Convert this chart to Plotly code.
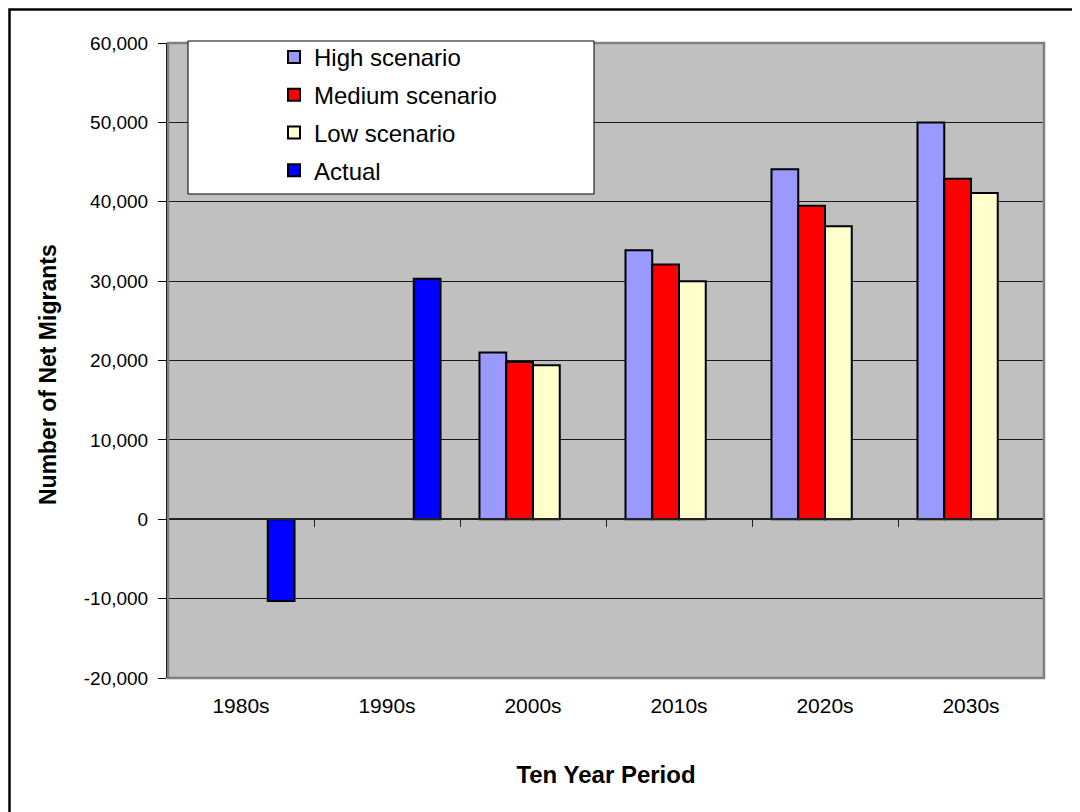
import plotly.graph_objects as go

# ---- data ----
periods = ["1980s", "1990s", "2000s", "2010s", "2020s", "2030s"]
high_scenario = [None, None, 21000, 33900, 44100, 50000]
medium_scenario = [None, None, 19800, 32100, 39500, 42900]
low_scenario = [None, None, 19400, 30000, 36900, 41100]
actual = [-10300, 30300, None, None, None, None]

y_tickvals = [-20000, -10000, 0, 10000, 20000, 30000, 40000, 50000, 60000]
y_ticktext = ["-20,000", "-10,000", "0", "10,000", "20,000", "30,000", "40,000", "50,000", "60,000"]

FONT = "Liberation Sans, Arial, sans-serif"
# page has an 8px body margin: the figure starts at screen (8, 8)
OFF = 8
W, H = 1080 - OFF, 812 - OFF
# plot area in screen pixels
PL, PR, PT, PB = 168, 1044, 43, 678
ML, MR, MT, MB = PL - OFF, 1080 - PR, PT - OFF, 812 - PB
PW, PH = PR - PL, PB - PT


def px(x):
    return (x - PL) / PW


def py(y):
    return 1 - (y - PT) / PH


series = [
    ("High scenario", high_scenario, "#9999FF"),
    ("Medium scenario", medium_scenario, "#FF0000"),
    ("Low scenario", low_scenario, "#FFFFCC"),
    ("Actual", actual, "#0000FF"),
]

fig = go.Figure()
for name, vals, col in series:
    fig.add_trace(go.Bar(
        x=periods, y=vals, name=name, legendgroup=name,
        marker=dict(color=col, line=dict(color="black", width=2)),
    ))

# helper trace for the zero-line category axis (tick marks between categories)
fig.add_trace(go.Scatter(x=[], y=[], xaxis="x2", yaxis="y", showlegend=False, hoverinfo="skip"))

fig.update_layout(
    width=W, height=H,
    margin=dict(l=ML, r=MR, t=MT, b=MB, autoexpand=False),
    paper_bgcolor="white",
    plot_bgcolor="#C0C0C0",
    barmode="group",
    bargap=0.267,
    bargroupgap=0,
    font=dict(family=FONT, color="black"),
    showlegend=True,
    legend=dict(
        x=px(274), y=py(35), xanchor="left", yanchor="top",
        bgcolor="rgba(0,0,0,0)", borderwidth=0,
        font=dict(size=24, family=FONT, color="black"),
        traceorder="grouped", tracegroupgap=3.5,
        itemclick=False,
    ),
    xaxis=dict(
        type="category", categoryorder="array", categoryarray=periods,
        range=[-0.5, 5.5],
        showgrid=False, zeroline=False, showline=False,
        ticks="", tickfont=dict(size=21, family=FONT, color="black"),
        ticklabelstandoff=13,
        title=dict(text="<b>Ten Year Period</b>", font=dict(size=24, family=FONT, color="black"), standoff=50),
    ),
    xaxis2=dict(
        overlaying="x", anchor="free", position=py(519), side="bottom",
        range=[-0.5, 5.5], showgrid=False, zeroline=False,
        showline=True, linecolor="#202020", linewidth=1.5,
        tickmode="array", tickvals=[-0.5, 0.5, 1.5, 2.5, 3.5, 4.5, 5.5],
        ticks="outside", ticklen=7, tickwidth=1.3, tickcolor="#202020",
        showticklabels=False,
    ),
    yaxis=dict(
        range=[-20000, 60000],
        tickmode="array", tickvals=y_tickvals, ticktext=y_ticktext,
        showgrid=True, gridcolor="#1a1a1a", gridwidth=1,
        zeroline=False,
        showline=True, linecolor="black", linewidth=2,
        ticks="outside", ticklen=8, tickwidth=1.3, tickcolor="black",
        tickfont=dict(size=19, family=FONT, color="black"),
        ticklabelstandoff=6,
    ),
    annotations=[
        dict(text="<b>Number of Net Migrants</b>", xref="paper", yref="paper",
             x=px(48), y=py(375), textangle=-90, showarrow=False,
             font=dict(size=23, family=FONT, color="black"),
             xanchor="center", yanchor="middle"),
    ],
    shapes=[
        # plot area border (grey)
        dict(type="rect", xref="paper", yref="paper", x0=0, x1=1, y0=0, y1=1,
             line=dict(color="#808080", width=2.5), fillcolor="rgba(0,0,0,0)", layer="above"),
        # legend box
        dict(type="rect", xref="paper", yref="paper",
             x0=px(188), x1=px(594), y0=py(194), y1=py(41),
             line=dict(color="black", width=1), fillcolor="white", layer="above"),
        # outer chart border
        dict(type="rect", xref="paper", yref="paper",
             x0=px(9.5), x1=px(1100), y0=py(830), y1=py(9.5),
             line=dict(color="black", width=2.5), fillcolor="rgba(0,0,0,0)", layer="above"),
    ],
)

fig.write_html("out.html")
